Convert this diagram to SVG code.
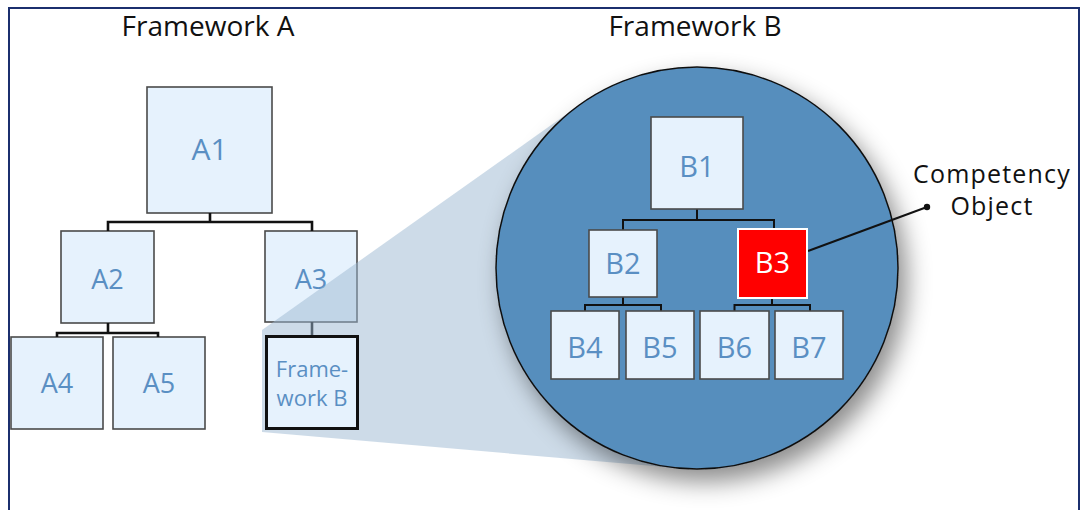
<svg xmlns="http://www.w3.org/2000/svg" width="1082" height="510" viewBox="0 0 1082 510">
  <defs>
    <style>
      .node { fill: #e6f2fd; stroke: #4a4a4a; stroke-width: 1.6; }
      .lbl { font-family: "Open Sans", "Noto Sans", sans-serif; fill: #5a8fc3; text-anchor: middle; }
      .title { font-family: "Open Sans", "Noto Sans", sans-serif; fill: #111; font-size: 28px; text-anchor: middle; }
      .conA { fill: none; stroke: #111; stroke-width: 2.6; }
      .conB { fill: none; stroke: #111; stroke-width: 2; }
    </style>
    <filter id="shadow" x="-20%" y="-20%" width="150%" height="150%">
      <feDropShadow dx="8" dy="12" stdDeviation="12" flood-color="#000" flood-opacity="0.45"/>
    </filter>
  </defs>

  <rect x="9" y="8" width="1070" height="520" fill="#ffffff" stroke="#1b2f6e" stroke-width="2"/>

  <text class="title" x="208" y="36">Framework A</text>
  <text class="title" x="695" y="36">Framework B</text>

  <!-- Framework A tree -->
  <g id="A1"><rect class="node" x="147" y="87" width="125" height="126"/><text class="lbl" x="209.5" y="160" font-size="30">A1</text></g>
  <g id="A2"><rect class="node" x="61" y="231" width="93" height="92"/><text class="lbl" x="107.5" y="289" font-size="27">A2</text></g>
  <g id="A3"><rect class="node" x="265" y="231" width="92" height="91"/><text class="lbl" x="311" y="289" font-size="27">A3</text></g>
  <g id="A4"><rect class="node" x="11" y="337" width="92" height="92"/><text class="lbl" x="57" y="393" font-size="27">A4</text></g>
  <g id="A5"><rect class="node" x="113" y="337" width="92" height="92"/><text class="lbl" x="159" y="393" font-size="27">A5</text></g>

  <g id="connectors-A">
    <path class="conA" d="M210 213 V222 M108 231 V222 H312 V231"/>
    <path class="conA" d="M108 323 V333 M57 337 V333 H158 V337"/>
    <path class="conA" d="M312 322 V337"/>
  </g>

  <!-- zoom wedge -->
  <g id="wedge">
    <polygon points="262,330 580.7,104.1 697,268 679.6,468.3 262,432" fill="#9bb7d1" fill-opacity="0.5"/>
  </g>

  <g id="FrameworkB-box">
    <rect x="266.5" y="336.5" width="91" height="92" fill="#e6f2fd" stroke="#111" stroke-width="3"/>
    <text class="lbl" font-size="22"><tspan x="312" y="377">Frame-</tspan><tspan x="312" y="406">work B</tspan></text>
  </g>

  <!-- circle -->
  <g id="circle">
    <circle cx="697" cy="268" r="201" fill="#578ebd" stroke="#111" stroke-width="1.5" filter="url(#shadow)"/>
  </g>

  <g id="connectors-B">
    <path class="conB" d="M697 209 V220 M623 230 V220 H774 V229"/>
    <path class="conB" d="M623 297 V305 M585 311 V305 H661 V311"/>
    <path class="conB" d="M772 298 V305 M734.5 311 V305 H810 V311"/>
    <line class="conB" x1="808" y1="251" x2="927" y2="207"/>
    <circle cx="927" cy="207" r="3.2" fill="#111"/>
  </g>

  <g id="B1"><rect class="node" x="651" y="117" width="92" height="92"/><text class="lbl" x="697" y="177" font-size="29">B1</text></g>
  <g id="B2"><rect class="node" x="589" y="230" width="68" height="67"/><text class="lbl" x="623" y="274" font-size="29">B2</text></g>
  <g id="B3"><rect x="738" y="229" width="69" height="69" fill="#ff0000" stroke="#ffffff" stroke-width="2"/><text class="lbl" x="772.5" y="273" font-size="29" style="fill:#ffffff">B3</text></g>
  <g id="B4"><rect class="node" x="551" y="311" width="68" height="68"/><text class="lbl" x="585" y="358" font-size="29">B4</text></g>
  <g id="B5"><rect class="node" x="626" y="311" width="68" height="68"/><text class="lbl" x="660" y="358" font-size="29">B5</text></g>
  <g id="B6"><rect class="node" x="700" y="311" width="69" height="68"/><text class="lbl" x="734.5" y="358" font-size="29">B6</text></g>
  <g id="B7"><rect class="node" x="775" y="311" width="68" height="68"/><text class="lbl" x="809" y="358" font-size="29">B7</text></g>

  <g id="competency-label">
    <text class="title" style="font-size:25px" letter-spacing="1.2"><tspan x="992" y="183">Competency</tspan><tspan x="992" y="215">Object</tspan></text>
  </g>
</svg>
